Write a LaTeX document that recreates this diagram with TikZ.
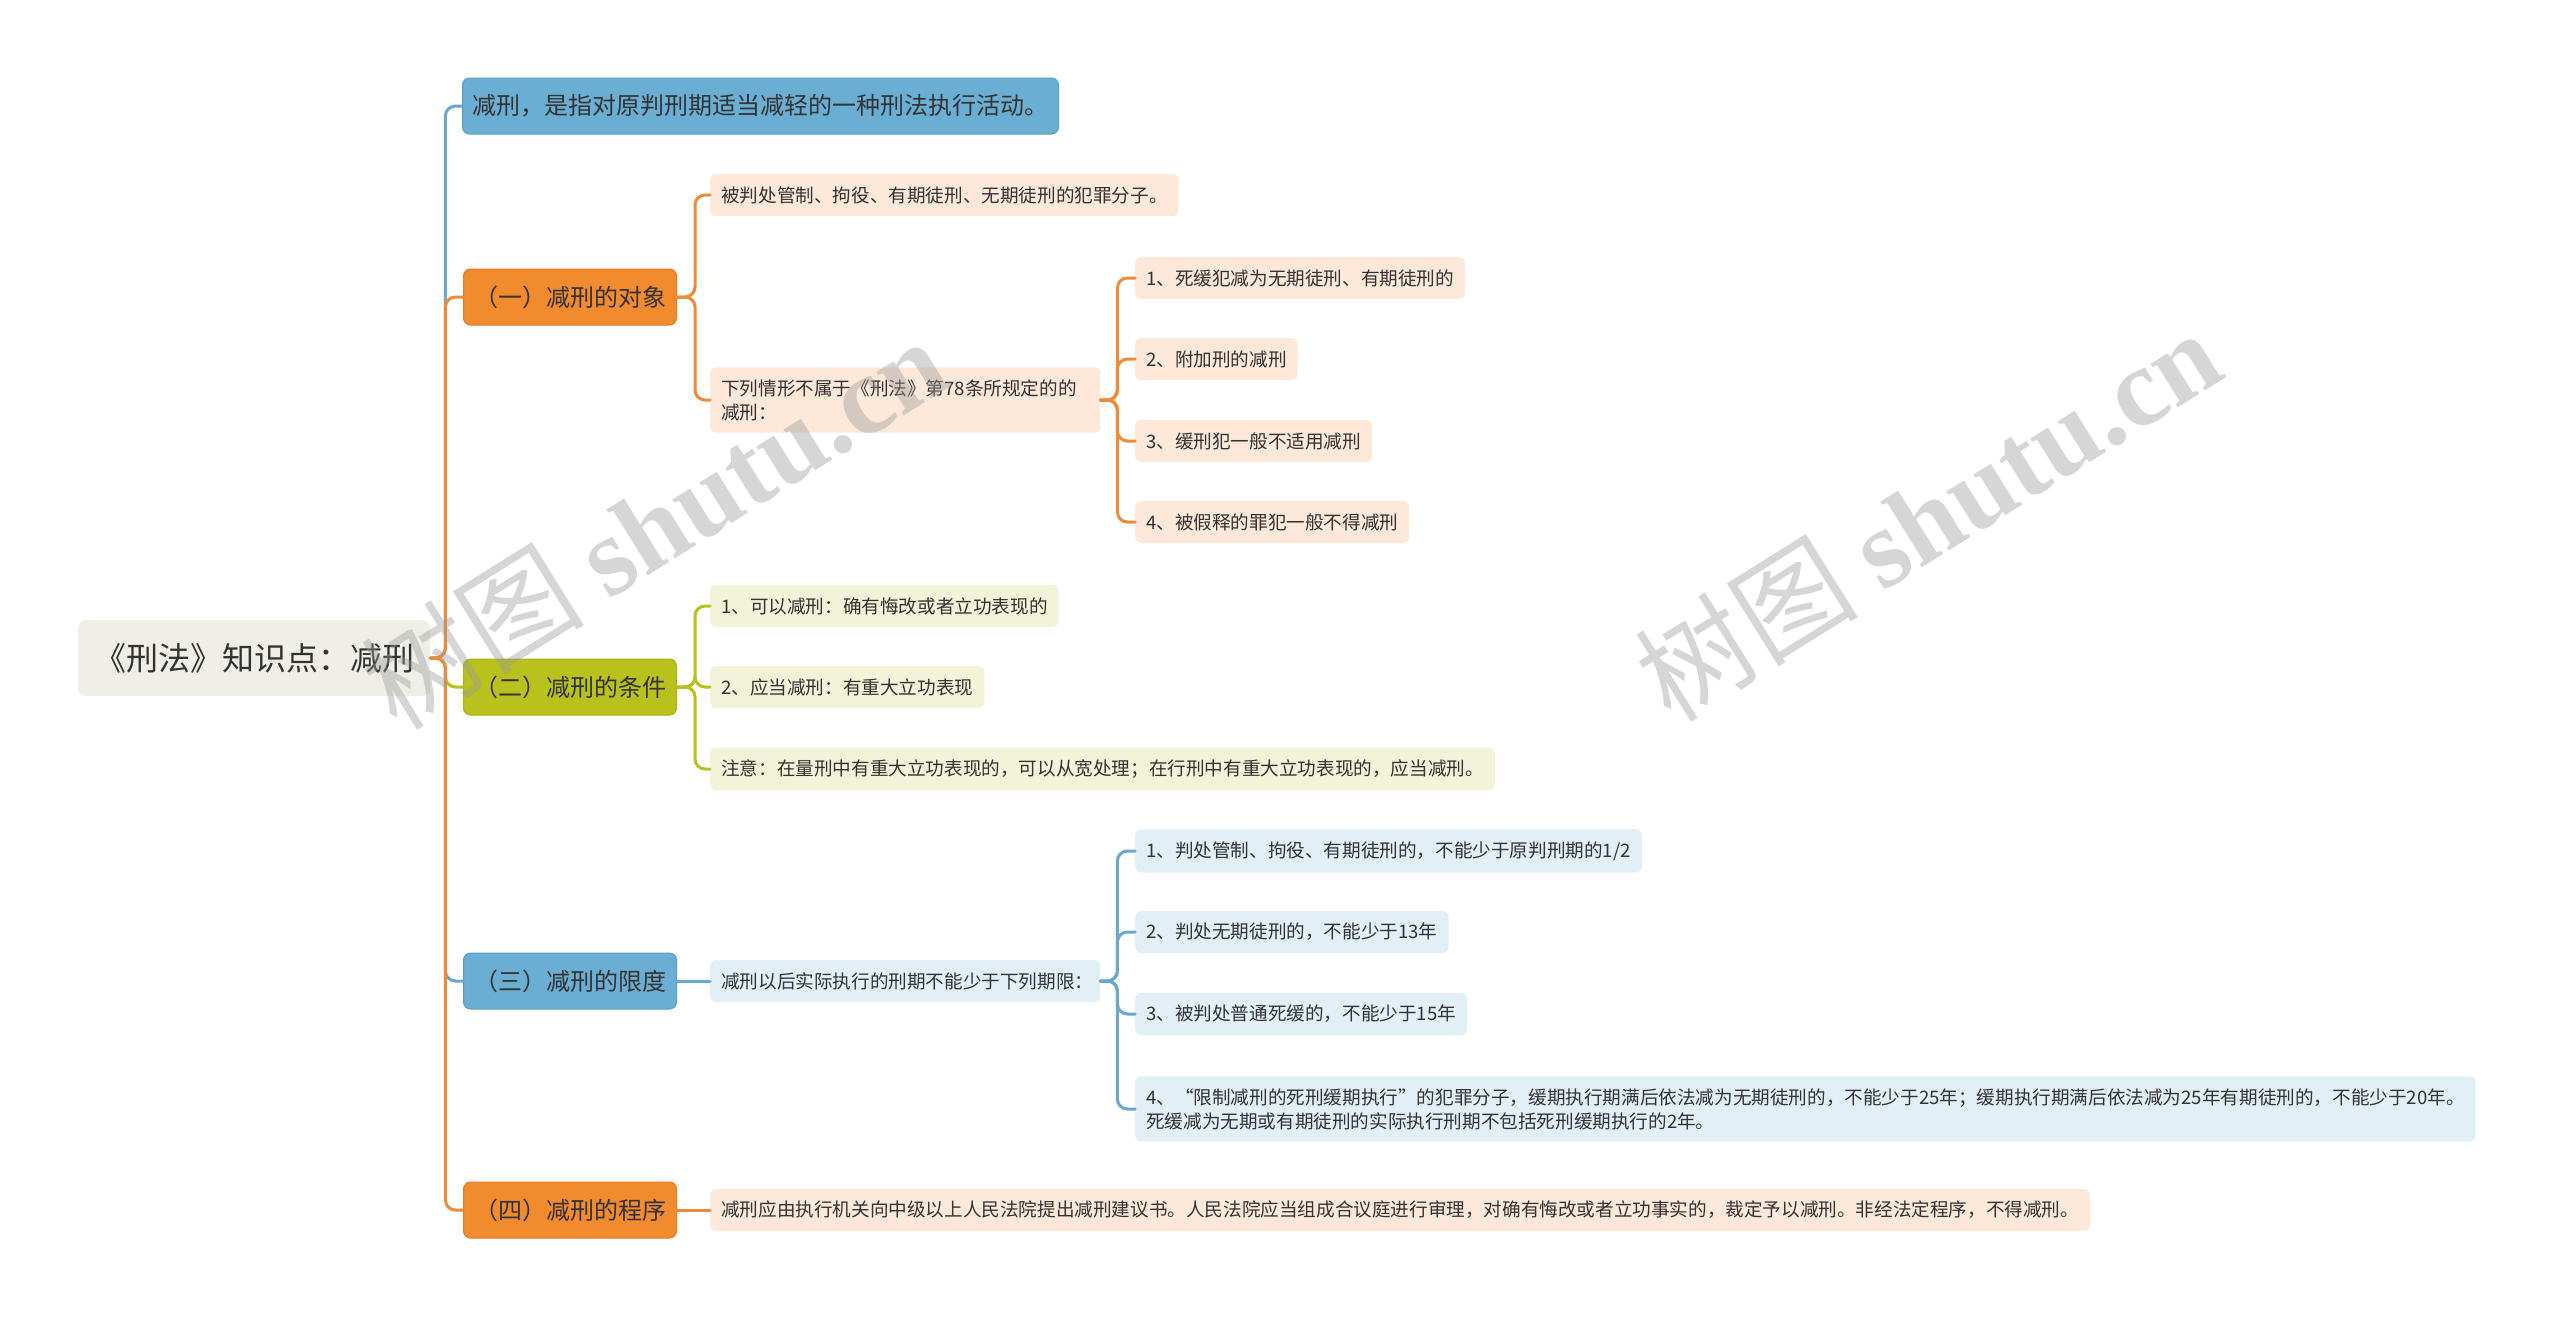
\documentclass[tikz,border=0pt]{standalone}
\usepackage{fontspec}
\setmainfont{Noto Sans CJK SC}
\newfontfamily\wmlatin{Liberation Serif}
\usetikzlibrary{positioning}

\definecolor{orangetopic}{HTML}{F28A2E}
\definecolor{orangeedge}{HTML}{E27C22}
\definecolor{orangeline}{HTML}{EE8A38}
\definecolor{orangeleaf}{HTML}{FDE8D9}
\definecolor{olivetopic}{HTML}{B9C11C}
\definecolor{oliveedge}{HTML}{A9B014}
\definecolor{oliveleaf}{HTML}{F3F3DA}
\definecolor{bluetopic}{HTML}{6BAED3}
\definecolor{blueedge}{HTML}{5A9DC3}
\definecolor{blueline}{HTML}{6AA8CD}
\definecolor{blueleaf}{HTML}{E2EFF7}
\definecolor{rootfill}{HTML}{EFEFE8}
\definecolor{inkdark}{HTML}{333333}

\begin{document}
\begin{tikzpicture}[x=1pt,y=-1pt,
  rootbox/.style={anchor=west, fill=rootfill, rounded corners=8pt, inner xsep=16pt,
    minimum height=76pt, text=inkdark, font=\fontsize{32}{38}\selectfont},
  topic/.style={anchor=west, rounded corners=7pt, line width=1pt, minimum width=213pt,
    minimum height=56pt, inner xsep=8pt, text=inkdark, font=\fontsize{24}{28}\selectfont},
  leaf/.style={anchor=west, rounded corners=6pt, minimum height=42pt, inner xsep=11pt,
    inner ysep=12pt, align=left, text=inkdark, font=\fontsize{18.6}{24}\selectfont},
  conn/.style={line width=3pt, rounded corners=10pt, line cap=round},
  wmark/.style={text=black!40, text opacity=.4, rotate=32, font=\fontsize{112}{112}\selectfont}]
\useasboundingbox (0,0) rectangle (2560,1317);

\node[rootbox] (root) at (78,658) {《刑法》知识点：减刑};

\node[topic, fill=bluetopic, draw=blueedge, minimum width=596pt] (t0) at (462,106) {减刑，是指对原判刑期适当减轻的一种刑法执行活动。};
\node[topic, fill=orangetopic, draw=orangeedge] (t1) at (463,297) {（一）减刑的对象};
\node[topic, fill=olivetopic, draw=oliveedge] (t2) at (463,687) {（二）减刑的条件};
\node[topic, fill=bluetopic, draw=blueedge] (t3) at (463,981) {（三）减刑的限度};
\node[topic, fill=orangetopic, draw=orangeedge] (t4) at (463,1210) {（四）减刑的程序};

\node[leaf, fill=orangeleaf] (a1) at (710,195) {被判处管制、拘役、有期徒刑、无期徒刑的犯罪分子。};
\node[leaf, fill=orangeleaf, text width=368pt] (a2) at (710,400) {下列情形不属于《刑法》第78条所规定的的\\减刑：};
\node[leaf, fill=orangeleaf] (a21) at (1135,278) {1、死缓犯减为无期徒刑、有期徒刑的};
\node[leaf, fill=orangeleaf] (a22) at (1135,359) {2、附加刑的减刑};
\node[leaf, fill=orangeleaf] (a23) at (1135,441) {3、缓刑犯一般不适用减刑};
\node[leaf, fill=orangeleaf] (a24) at (1135,522) {4、被假释的罪犯一般不得减刑};

\node[leaf, fill=oliveleaf] (b1) at (710,606) {1、可以减刑：确有悔改或者立功表现的};
\node[leaf, fill=oliveleaf] (b2) at (710,687) {2、应当减刑：有重大立功表现};
\node[leaf, fill=oliveleaf] (b3) at (710,769) {注意：在量刑中有重大立功表现的，可以从宽处理；在行刑中有重大立功表现的，应当减刑。};

\node[leaf, fill=blueleaf, text width=368pt] (c1) at (710,981) {减刑以后实际执行的刑期不能少于下列期限：};
\node[leaf, fill=blueleaf] (c11) at (1135,851) {1、判处管制、拘役、有期徒刑的，不能少于原判刑期的1/2};
\node[leaf, fill=blueleaf] (c12) at (1135,932) {2、判处无期徒刑的，不能少于13年};
\node[leaf, fill=blueleaf] (c13) at (1135,1014) {3、被判处普通死缓的，不能少于15年};
\node[leaf, fill=blueleaf] (c14) at (1135,1109) {4、“限制减刑的死刑缓期执行”的犯罪分子，缓期执行期满后依法减为无期徒刑的，不能少于25年；缓期执行期满后依法减为25年有期徒刑的，不能少于20年。\\死缓减为无期或有期徒刑的实际执行刑期不包括死刑缓期执行的2年。};

\node[leaf, fill=orangeleaf] (d1) at (710,1210) {减刑应由执行机关向中级以上人民法院提出减刑建议书。人民法院应当组成合议庭进行审理，对确有悔改或者立功事实的，裁定予以减刑。非经法定程序，不得减刑。};

\coordinate (jr) at ([xshift=15pt]root.east);
\coordinate (j1) at ([xshift=18pt]t1.east);
\coordinate (j2) at ([xshift=18pt]t2.east);
\coordinate (ja2) at ([xshift=17pt]a2.east);
\coordinate (jc1) at ([xshift=17pt]c1.east);

\draw[conn, blueline] (root.east) -- (jr) |- (t0.west);
\draw[conn, blueline] (root.east) -- (jr) |- (t3.west);
\draw[conn, olivetopic] (root.east) -- (jr) |- (t2.west);
\draw[conn, orangeline] (root.east) -- (jr) |- (t1.west);
\draw[conn, orangeline] (root.east) -- (jr) |- (t4.west);

\foreach \leafname in {a1,a2}
  \draw[conn, orangeline] (t1.east) -- (j1) |- (\leafname.west);
\foreach \leafname in {a21,a22,a23,a24}
  \draw[conn, orangeline] (a2.east) -- (ja2) |- (\leafname.west);
\foreach \leafname in {b1,b2,b3}
  \draw[conn, olivetopic] (t2.east) -- (j2) |- (\leafname.west);
\draw[conn, blueline] (t3.east) -- (c1.west);
\foreach \leafname in {c11,c12,c13,c14}
  \draw[conn, blueline] (c1.east) -- (jc1) |- (\leafname.west);
\draw[conn, orangeline] (t4.east) -- (d1.west);

\node[wmark] (wm1) at (653,522) {树图 {\wmlatin\bfseries shutu.cn}};
\node[wmark] (wm2) at (1927,514) {树图 {\wmlatin\bfseries shutu.cn}};
\end{tikzpicture}
\end{document}
